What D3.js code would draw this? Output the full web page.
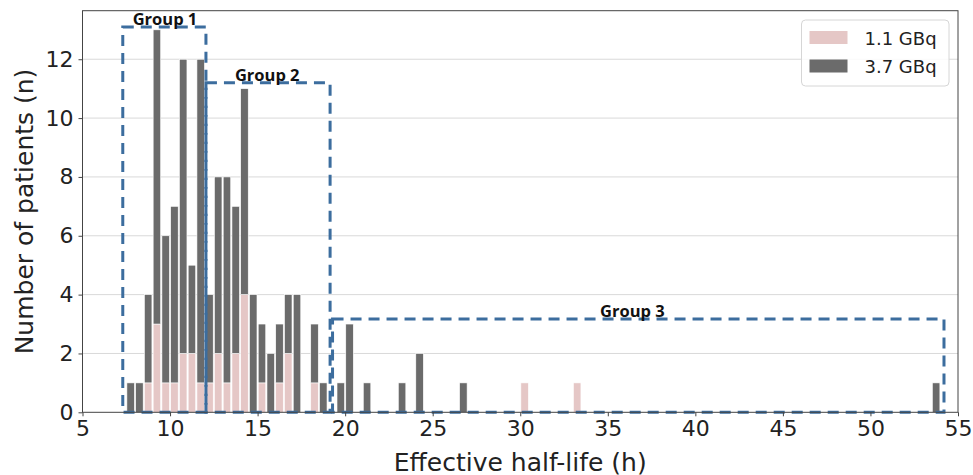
<!DOCTYPE html>
<html>
<head>
<meta charset="utf-8">
<script src="https://cdnjs.cloudflare.com/ajax/libs/d3/7.8.5/d3.min.js"></script>
<style>
	body { margin: 0; background: #fff; }
	svg { display: block; }
	.tick text { font-family: "DejaVu Sans", sans-serif; fill: #222; }
</style>
</head>
<body>
<svg width="973" height="475"></svg>
<script>
//Datos del histograma (bins de 0.5 h, borde izquierdo)
var binWidth = 0.5;
var binStart = [7.5, 8.0, 8.5, 9.0, 9.5, 10.0, 10.5, 11.0, 11.5, 12.0, 12.5, 13.0, 13.5, 14.0, 14.5,
	15.0, 15.5, 16.0, 16.5, 17.0, 18.0, 18.5, 19.5, 20.0, 21.0, 23.0, 24.0, 26.5, 30.0, 33.0, 53.5];
//1.1 GBq
var low = [0, 0, 1, 3, 1, 1, 2, 2, 1, 1, 2, 1, 2, 4, 0,
	1, 0, 1, 2, 0, 1, 0, 0, 0, 0, 0, 0, 0, 1, 1, 0];
//3.7 GBq
var high = [1, 1, 3, 10, 5, 6, 10, 3, 11, 3, 6, 7, 5, 7, 4,
	2, 2, 2, 2, 4, 2, 1, 1, 3, 1, 1, 2, 1, 0, 0, 1];

var seriesNames = ["1.1 GBq", "3.7 GBq"];
var seriesColors = ["#e5c7c6", "#6b6b6b"];

//Grupos
var groupNames = ["Group 1", "Group 2", "Group 3"];
var groupFrom = [7.3, 12.05, 19.28];
var groupTo = [12.05, 19.14, 54.2];
var groupTop = [13.1, 11.2, 3.17];
var groupLabelX = [9.71, 15.55, 36.4];

var xTicks = [5, 10, 15, 20, 25, 30, 35, 40, 45, 50, 55];
var yTicks = [0, 2, 4, 6, 8, 10, 12];

var svg = d3.select("svg");
var margin = {top: 10.7, right: 15, bottom: 62.7, left: 82.5},
	width = +svg.attr("width") - margin.left - margin.right,
	height = +svg.attr("height") - margin.top - margin.bottom;

var g = svg.append("g")
	.attr("transform", "translate(" + margin.left + "," + margin.top + ")");

var x = d3.scaleLinear().domain([5, 55]).range([0, width]);
var y = d3.scaleLinear().domain([0, 13.65]).range([height, 0]);

//grid
g.append("g")
	.selectAll("line")
	.data(yTicks.slice(1))
	.enter().append("line")
	.attr("x1", 0).attr("x2", width)
	.attr("y1", function(d) { return y(d); })
	.attr("y2", function(d) { return y(d); })
	.attr("stroke", "#d9d9d9")
	.attr("stroke-width", 1);

//barras apiladas
var rows = binStart.map(function(b, i) { return {bin: b, low: low[i], high: high[i]}; });
var stack = d3.stack().keys(["low", "high"]);
var layers = stack(rows);
var pad = binWidth * 0.07;

g.selectAll(".serie")
	.data(layers)
	.enter().append("g")
	.attr("class", "serie")
	.attr("fill", function(d, i) { return seriesColors[i]; })
	.selectAll("rect")
	.data(function(d) { return d.filter(function(s) { return s[1] > s[0]; }); })
	.enter().append("rect")
	.attr("x", function(d) { return x(d.data.bin + pad); })
	.attr("width", function(d) { return x(d.data.bin + binWidth - pad) - x(d.data.bin + pad); })
	.attr("y", function(d) { return y(d[1]); })
	.attr("height", function(d) { return y(d[0]) - y(d[1]); })
	.attr("stroke", "#fff")
	.attr("stroke-width", 0.6);

//cajas de los grupos
groupNames.forEach(function(name, i) {
	g.append("rect")
		.attr("x", x(groupFrom[i]))
		.attr("y", y(groupTop[i]))
		.attr("width", x(groupTo[i]) - x(groupFrom[i]))
		.attr("height", y(0) - y(groupTop[i]))
		.attr("fill", "none")
		.attr("stroke", "#3c6d9e")
		.attr("stroke-width", 3)
		.attr("stroke-dasharray", "11,7");
	g.append("text")
		.attr("x", x(groupLabelX[i]))
		.attr("y", y(groupTop[i]) - 2)
		.attr("text-anchor", "middle")
		.style("font-family", "'Open Sans', sans-serif")
		.style("font-weight", "bold")
		.style("font-size", "16.5px")
		.attr("fill", "#111")
		.text(name);
});

//ejes
var xAxis = g.append("g")
	.attr("transform", "translate(0," + height + ")")
	.call(d3.axisBottom(x).tickValues(xTicks).tickSize(4).tickPadding(4));
var yAxis = g.append("g")
	.call(d3.axisLeft(y).tickValues(yTicks).tickSize(4).tickPadding(5));
xAxis.selectAll("text").style("font-size", "22px");
yAxis.selectAll("text").style("font-size", "22px");
[xAxis, yAxis].forEach(function(a) {
	a.select(".domain").remove();
	a.selectAll(".tick line").attr("stroke", "#444");
});

//marco
g.append("rect")
	.attr("width", width).attr("height", height)
	.attr("fill", "none")
	.attr("stroke", "#444")
	.attr("stroke-width", 1);

svg.append("text")
	.attr("x", margin.left + width / 2)
	.attr("y", 470.5)
	.attr("text-anchor", "middle")
	.style("font-family", "'DejaVu Sans', sans-serif")
	.style("font-size", "25px")
	.attr("fill", "#222")
	.text("Effective half-life (h)");

svg.append("text")
	.attr("transform", "translate(33," + (margin.top + height / 2) + ") rotate(-90)")
	.attr("text-anchor", "middle")
	.style("font-family", "'DejaVu Sans', sans-serif")
	.style("font-size", "25px")
	.attr("fill", "#222")
	.text("Number of patients (n)");

//leyenda
var legend = svg.append("g").attr("transform", "translate(801.5,20)");
legend.append("rect")
	.attr("width", 147.5).attr("height", 66)
	.attr("rx", 4)
	.attr("fill", "#fff").attr("fill-opacity", 0.85)
	.attr("stroke", "#d6d6d6");
seriesNames.forEach(function(name, i) {
	legend.append("rect")
		.attr("x", 8).attr("y", 11 + i * 28.5)
		.attr("width", 38).attr("height", 13)
		.attr("fill", seriesColors[i]);
	legend.append("text")
		.attr("x", 63).attr("y", 24.5 + i * 28.5)
		.style("font-family", "'DejaVu Sans', sans-serif")
		.style("font-size", "18px")
		.attr("fill", "#222")
		.text(name);
});
</script>
</body>
</html>
